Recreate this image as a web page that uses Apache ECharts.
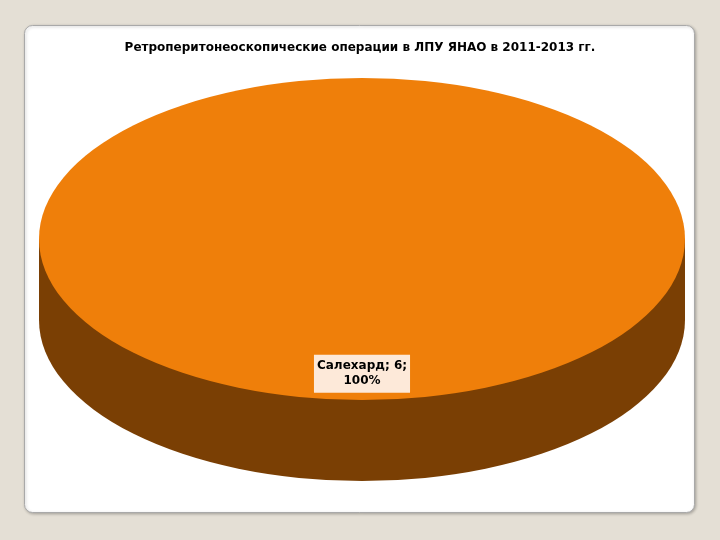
<!DOCTYPE html>
<html><head><meta charset="utf-8">
<script src="https://cdn.jsdelivr.net/npm/echarts@6/dist/echarts.min.js"></script>
<style>html,body{margin:0;padding:0;background:#e4dfd5;}#c{width:720px;height:540px;}</style>
</head><body><div id="c"></div>
<script>
var titleText = 'Ретроперитонеоскопические операции в ЛПУ ЯНАО в 2011-2013 гг.';
var categories = ['Салехард'];
var values = [6];
var topColors = ['#ef7f0a'];
var sideColors = ['#7a3f04'];

var chart = echarts.init(document.getElementById('c'));
var total = values.reduce(function(a,b){return a+b;},0);
var seriesData = categories.map(function(c,i){return {name:c, value:values[i]};});

function renderItem(params, api){
  var idx = params.dataIndex;
  var cx = 362, cy = 239, rx = 323, ry = 161, depth = 81;
  var sy = ry/rx;
  var before = 0;
  for (var k=0;k<idx;k++) before += values[k];
  var v = api.value(0);
  var a0 = -Math.PI/2 + before/total*2*Math.PI;
  var a1 = a0 + v/total*2*Math.PI;
  var mid = (a0+a1)/2;
  var pct = Math.round(v/total*100);
  var lx = cx + Math.cos(mid)*rx*0.83;
  var ly = cy + Math.sin(mid)*ry*0.83 + 1;
  return {
    type:'group',
    children:[
      {type:'rect', shape:{x:cx-rx, y:cy, width:2*rx, height:depth}, style:{fill:sideColors[idx]}},
      {type:'sector', shape:{cx:cx, cy:cy+depth, r:rx, r0:0, startAngle:0, endAngle:Math.PI, clockwise:true},
        originX:cx, originY:cy+depth, scaleY:sy, style:{fill:sideColors[idx]}},
      {type:'sector', shape:{cx:cx, cy:cy, r:rx, r0:0, startAngle:a0, endAngle:a1, clockwise:true},
        originX:cx, originY:cy, scaleY:sy, style:{fill:topColors[idx]}},
      {type:'text', x:lx, y:ly, style:{
        text: categories[idx] + '; ' + v + ';\n' + pct + '%',
        align:'center', verticalAlign:'middle',
        font:'bold 12px "DejaVu Sans"', fill:'#000', lineHeight:15,
        backgroundColor:'#fde9d9', padding:[4,3,4,3]
      }}
    ]
  };
}

chart.setOption({
  backgroundColor:'#e4dfd5',
  animation:false,
  graphic:[{
    type:'rect', z:-10, shape:{x:24.5, y:25.5, width:670, height:487, r:8},
    style:{fill:'#ffffff', stroke:'#a9a9a9', lineWidth:1, shadowColor:'rgba(0,0,0,0.25)', shadowBlur:3, shadowOffsetX:1, shadowOffsetY:1}
  }],
  title:{text:titleText, left:'center', top:37,
    textStyle:{fontFamily:'DejaVu Sans', fontSize:12, fontWeight:'bold', color:'#000'}},
  series:[{type:'custom', coordinateSystem:'none', renderItem:renderItem, data:seriesData.map(function(d){return [d.value];})}]
});
</script></body></html>
